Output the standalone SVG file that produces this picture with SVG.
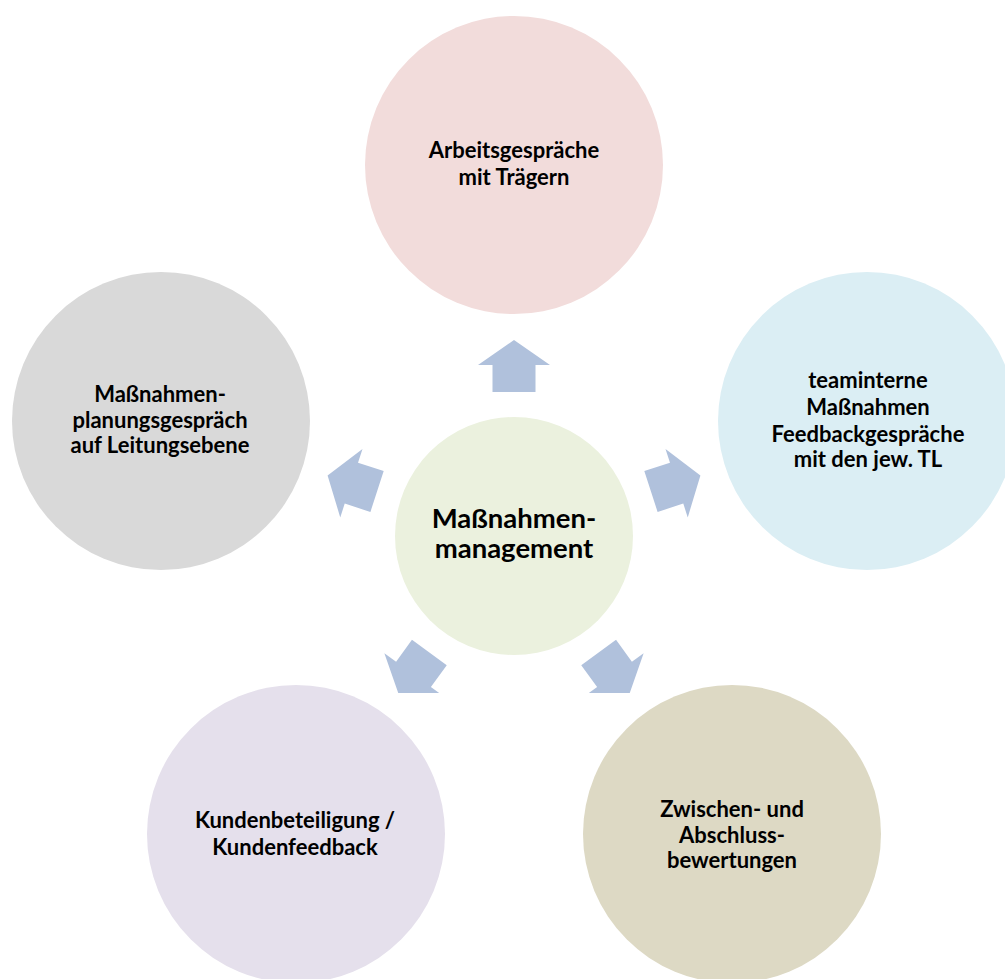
<svg xmlns="http://www.w3.org/2000/svg" width="1005" height="979" viewBox="0 0 1005 979">
  <style>
    .lbl { font-family: Lato, "Open Sans", "Liberation Sans", sans-serif; font-weight: bold; font-size: 22px; fill: #000; text-anchor: middle; }
    .ctr { font-family: Lato, "Open Sans", "Liberation Sans", sans-serif; font-weight: bold; font-size: 27.5px; fill: #000; text-anchor: middle; }
    .arrow { fill: #B0C1DC; }
  </style>
  <defs>
    <polygon id="arw" points="0,-196 36,-171 21.5,-171 21.5,-144 -21.5,-144 -21.5,-171 -36,-171"/>
    <clipPath id="clipTop"><rect x="0" y="0" width="1005" height="693"/></clipPath>
  </defs>
  <rect width="1005" height="979" fill="#FFFFFF"/>

  <g id="connectors">
    <use href="#arw" class="arrow" transform="translate(514,536)"/>
    <use href="#arw" class="arrow" transform="translate(514,536) rotate(72)"/>
    <use href="#arw" class="arrow" transform="translate(514,536) rotate(-72)"/>
    <g clip-path="url(#clipTop)">
      <use href="#arw" class="arrow" transform="translate(514,536) rotate(144)"/>
      <use href="#arw" class="arrow" transform="translate(514,536) rotate(-144)"/>
    </g>
  </g>

  <g id="center">
    <circle cx="514" cy="536" r="119" fill="#EBF1DE"/>
    <text class="ctr" x="514" y="528">Maßnahmen-</text>
    <text class="ctr" x="514" y="558">management</text>
  </g>

  <g id="top">
    <circle cx="514" cy="165" r="149" fill="#F2DCDB"/>
    <text class="lbl" x="514" y="158">Arbeitsgespräche</text>
    <text class="lbl" x="514" y="185">mit Trägern</text>
  </g>

  <g id="right">
    <circle cx="867" cy="421" r="149" fill="#DBEEF4"/>
    <text class="lbl" x="868" y="388">teaminterne</text>
    <text class="lbl" x="868" y="415">Maßnahmen</text>
    <text class="lbl" x="868" y="442">Feedbackgespräche</text>
    <text class="lbl" x="868" y="467">mit den jew. TL</text>
  </g>

  <g id="left">
    <circle cx="161" cy="421" r="149" fill="#D9D9D9"/>
    <text class="lbl" x="160" y="402">Maßnahmen-</text>
    <text class="lbl" x="160" y="428">planungsgespräch</text>
    <text class="lbl" x="160" y="453">auf Leitungsebene</text>
  </g>

  <g id="bottomLeft">
    <circle cx="296" cy="834" r="149" fill="#E5E0EC"/>
    <text class="lbl" x="295" y="828">Kundenbeteiligung /</text>
    <text class="lbl" x="295" y="855">Kundenfeedback</text>
  </g>

  <g id="bottomRight">
    <circle cx="732" cy="834" r="149" fill="#DDD9C4"/>
    <text class="lbl" x="732" y="817">Zwischen- und</text>
    <text class="lbl" x="732" y="843">Abschluss-</text>
    <text class="lbl" x="732" y="868">bewertungen</text>
  </g>
</svg>
